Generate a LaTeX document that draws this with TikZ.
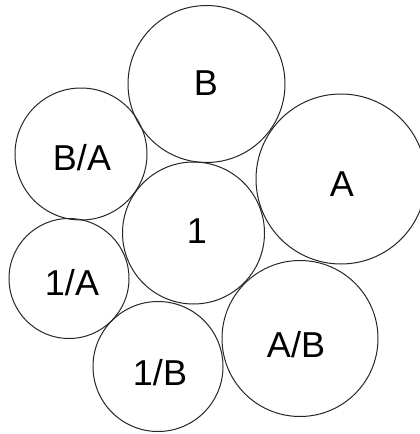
\documentclass[tikz,border=0pt]{standalone}
\usepackage{fontspec}
\setmainfont{Liberation Sans}
\begin{document}
\begin{tikzpicture}[x=1pt,y=-1pt,
  disc/.style={draw=black!85,line width=1pt,circle,inner sep=0pt,minimum size=#1},
  lbl/.style={font=\fontsize{36}{36}\selectfont,inner sep=0pt}]
\useasboundingbox[fill=white] (0,0) rectangle (420,434);
\node[disc=157pt] (B)  at (206.5,84) {};
\node[disc=132pt] (BA) at (81,154) {};
\node[disc=170pt] (A)  at (341,179) {};
\node[disc=142pt] (one) at (193.5,233) {};
\node[disc=120pt] (oA) at (69,278.5) {};
\node[disc=130pt] (oB) at (158,366.5) {};
\node[disc=156pt] (AB) at (300,338.5) {};
\node[lbl] (tB)  at (206,83) {B};
\node[lbl] (tBA) at (82,158) {B/A};
\node[lbl] (tA)  at (342,184) {A};
\node[lbl] (t1)  at (197,231) {1};
\node[lbl] (t1A) at (72,283) {1/A};
\node[lbl] (t1B) at (160,373) {1/B};
\node[lbl] (tAB) at (296,345) {A/B};
\end{tikzpicture}
\end{document}
